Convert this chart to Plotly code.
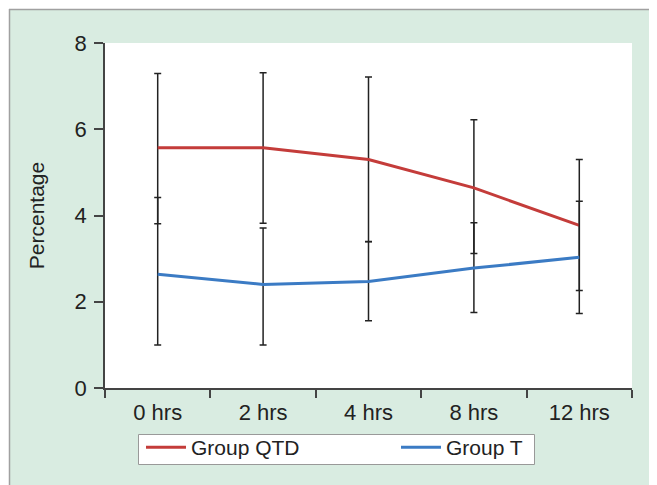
import plotly.graph_objects as go

categories = ["0 hrs", "2 hrs", "4 hrs", "8 hrs", "12 hrs"]

qtd_mean = [5.57, 5.57, 5.30, 4.64, 3.77]
qtd_upper = [7.29, 7.31, 7.21, 6.22, 5.30]
qtd_lower = [3.81, 3.82, 3.39, 3.12, 2.26]

t_mean = [2.64, 2.40, 2.47, 2.78, 3.03]
t_upper = [4.42, 3.71, 3.40, 3.83, 4.33]
t_lower = [1.00, 1.00, 1.56, 1.75, 1.73]

y_ticks = [0, 2, 4, 6, 8]

RED = "#c43c3a"
BLUE = "#3b7bc4"
FONT = "Liberation Sans, Arial, sans-serif"
FS = 21
TFS = 22


def err(upper, mean, lower):
    plus = [u - m for u, m in zip(upper, mean)]
    minus = [m - l for m, l in zip(mean, lower)]
    return dict(type="data", symmetric=False, array=plus, arrayminus=minus,
                color="#222222", thickness=1.5, width=3.5)


fig = go.Figure()
fig.add_trace(go.Scatter(x=categories, y=qtd_mean, mode="lines", name="Group QTD",
                         line=dict(color=RED, width=3),
                         error_y=err(qtd_upper, qtd_mean, qtd_lower)))
fig.add_trace(go.Scatter(x=categories, y=t_mean, mode="lines", name="Group T",
                         line=dict(color=BLUE, width=3),
                         error_y=err(t_upper, t_mean, t_lower)))

# the page has an 8px body margin, so figure coords = screen coords - 8
OFF = 8
W, H = 657 - OFF, 485 - OFF
L, R, T, B = 105 - OFF, 632 - OFF, 43 - OFF, 388 - OFF
pw, ph = R - L, B - T


def px(x):
    return (x - L) / pw


def py(y):
    return (B - y) / ph


# white strips outside the green panel, and its grey top/left border
fig.add_shape(type="rect", xref="paper", yref="paper", x0=px(-5), x1=px(W + 5),
              y0=py(1), y1=py(-5), fillcolor="white", line=dict(width=0))
fig.add_shape(type="rect", xref="paper", yref="paper", x0=px(-5), x1=px(1),
              y0=py(H + 5), y1=py(-5), fillcolor="white", line=dict(width=0))
fig.add_shape(type="line", xref="paper", yref="paper", x0=px(1), x1=px(W + 5),
              y0=py(1.5), y1=py(1.5), line=dict(color="#a0a0a0", width=1.5))
fig.add_shape(type="line", xref="paper", yref="paper", x0=px(1.5), x1=px(1.5),
              y0=py(H + 5), y1=py(1), line=dict(color="#a0a0a0", width=1.5))
# legend frame
fig.add_shape(type="rect", xref="paper", yref="paper",
              x0=px(138.5 - OFF), x1=px(534.5 - OFF),
              y0=py(464.5 - OFF), y1=py(434.5 - OFF),
              fillcolor="white", line=dict(color="#999999", width=1), layer="above")

fig.update_layout(
    width=W, height=H,
    margin=dict(l=L, r=W - R, t=T, b=H - B, autoexpand=False),
    paper_bgcolor="#d9ece1", plot_bgcolor="white",
    font=dict(family=FONT, size=FS, color="#222222"),
    showlegend=True,
    legend=dict(orientation="h", x=px(141 - OFF), y=py(427 - OFF),
                xanchor="left", yanchor="top",
                bgcolor="rgba(0,0,0,0)", borderwidth=0,
                font=dict(size=FS), entrywidth=200, entrywidthmode="pixels",
                itemwidth=40, tracegroupgap=0),
    xaxis=dict(type="category", range=[-0.5, 4.5], showgrid=False, zeroline=False,
               showline=True, linecolor="#444444", linewidth=1.5, automargin=False,
               ticks="outside", tickson="boundaries", ticklen=8, tickwidth=1.5,
               tickcolor="#444444", tickfont=dict(size=TFS), ticklabelstandoff=4),
    yaxis=dict(range=[0, 8], tickvals=y_ticks, showgrid=False, zeroline=False,
               showline=True, linecolor="#444444", linewidth=1.5, automargin=False,
               ticks="outside", ticklen=9, tickwidth=1.5, tickcolor="#444444",
               tickfont=dict(size=TFS), ticklabelstandoff=3,
               title=dict(text="Percentage", font=dict(size=FS), standoff=24)),
)

fig.write_html("out.html")
